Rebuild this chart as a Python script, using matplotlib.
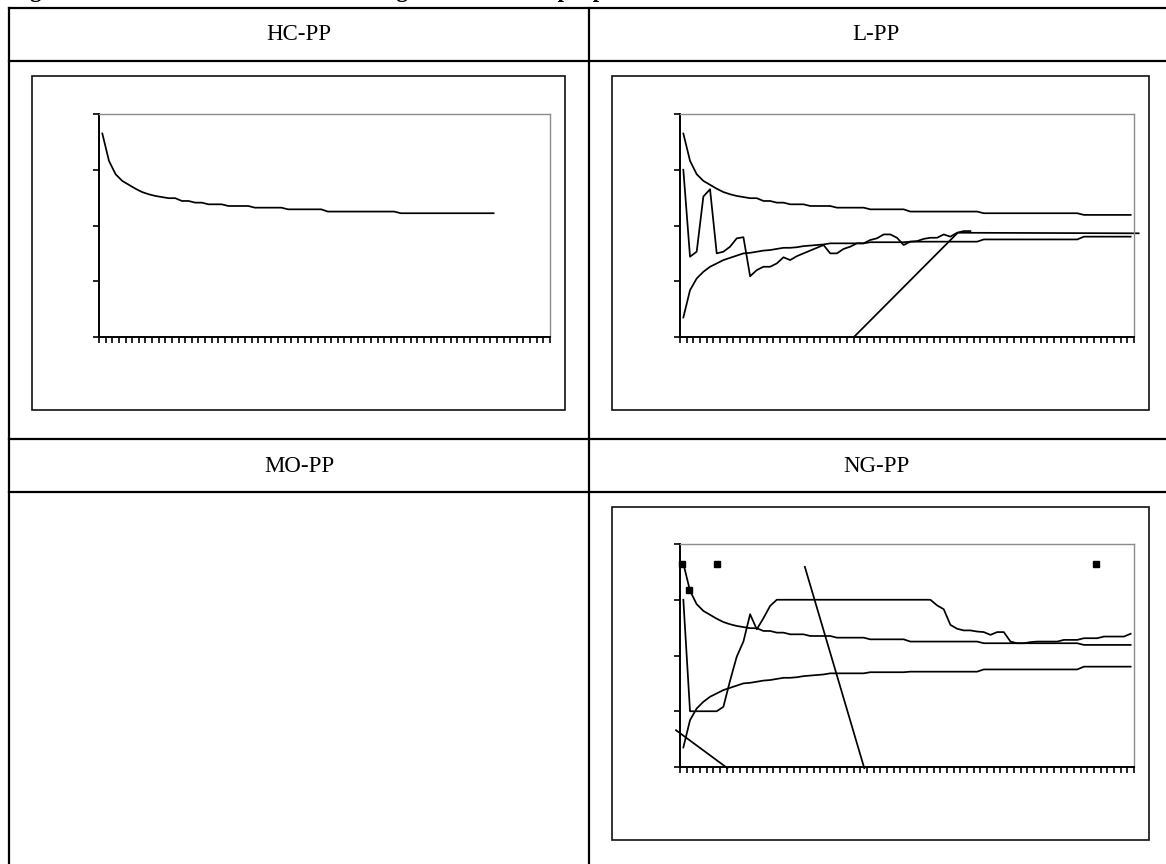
import numpy as np
import matplotlib
matplotlib.use("Agg")
import matplotlib.pyplot as plt
from matplotlib.lines import Line2D
from matplotlib.patches import Rectangle

W, H = 1166, 864

# ---- data (y axis 0..4, 68 categories) ----
N_CAT = 68

HC_PP = [3.65, 3.16, 2.92, 2.80, 2.73, 2.66, 2.60, 2.56, 2.53, 2.51,
         2.49, 2.49, 2.44, 2.44, 2.41, 2.41, 2.38, 2.38, 2.38, 2.35,
         2.35, 2.35, 2.35, 2.32, 2.32, 2.32, 2.32, 2.32, 2.29, 2.29,
         2.29, 2.29, 2.29, 2.29, 2.25, 2.25, 2.25, 2.25, 2.25, 2.25,
         2.25, 2.25, 2.25, 2.25, 2.25, 2.22, 2.22, 2.22, 2.22, 2.22,
         2.22, 2.22, 2.22, 2.22, 2.22, 2.22, 2.22, 2.22, 2.22, 2.22]

UPPER = HC_PP + [2.19, 2.19, 2.19, 2.19, 2.19, 2.19, 2.19, 2.19]

LOWER = [0.35, 0.84, 1.05, 1.17, 1.26, 1.32, 1.38, 1.42, 1.46, 1.50,
         1.51, 1.53, 1.55, 1.56, 1.58, 1.60, 1.60, 1.61, 1.63, 1.64,
         1.65, 1.66, 1.68, 1.68, 1.68, 1.68, 1.68, 1.68, 1.70, 1.70,
         1.70, 1.70, 1.70, 1.70, 1.71, 1.71, 1.71, 1.71, 1.71, 1.71,
         1.71, 1.71, 1.71, 1.71, 1.71, 1.75, 1.75, 1.75, 1.75, 1.75,
         1.75, 1.75, 1.75, 1.75, 1.75, 1.75, 1.75, 1.75, 1.75, 1.75,
         1.80, 1.80, 1.80, 1.80, 1.80, 1.80, 1.80, 1.80]

L_PP = [3.00, 1.44, 1.53, 2.52, 2.65, 1.50, 1.53, 1.62, 1.77, 1.79,
        1.09, 1.20, 1.26, 1.26, 1.32, 1.43, 1.38, 1.45, 1.50, 1.55,
        1.60, 1.65, 1.50, 1.50, 1.58, 1.62, 1.68, 1.68, 1.74, 1.77,
        1.84, 1.84, 1.78, 1.65, 1.71, 1.72, 1.76, 1.78, 1.78, 1.84,
        1.80, 1.87, 1.90, 1.90]
L_LINE_X = [26.05, 41.6, 68.7]
L_LINE_Y = [0.0, 1.87, 1.86]

NG_PP = [3.00, 1.00, 1.00, 1.00, 1.00, 1.00, 1.08, 1.55, 1.98, 2.25,
         2.74, 2.47, 2.67, 2.89, 3.00, 3.00, 3.00, 3.00, 3.00, 3.00,
         3.00, 3.00, 3.00, 3.00, 3.00, 3.00, 3.00, 3.00, 3.00, 3.00,
         3.00, 3.00, 3.00, 3.00, 3.00, 3.00, 3.00, 3.00, 2.90, 2.83,
         2.55, 2.48, 2.45, 2.45, 2.43, 2.42, 2.37, 2.42, 2.42, 2.25,
         2.22, 2.22, 2.24, 2.25, 2.25, 2.25, 2.25, 2.28, 2.28, 2.28,
         2.31, 2.31, 2.31, 2.34, 2.34, 2.34, 2.34, 2.39]
NG_LINE_A_X = [18.7, 27.6]
NG_LINE_A_Y = [3.59, -0.02]
NG_LINE_B_X = [-0.6, 7.1]
NG_LINE_B_Y = [0.66, -0.02]
NG_MARK_X = [0.3, 1.3, 5.6, 62.3]
NG_MARK_Y = [3.65, 3.17, 3.65, 3.65]

HEADERS = ["HC-PP", "L-PP", "MO-PP", "NG-PP"]
CAPTION = ("Figure 4: Estimates of the densities using the twelve sample "
           "parameter estimates for the models")


def fx(x):
    return x / W


def fy(y):
    return 1 - y / H


def px_axes(fig, x0, y0, x1, y1):
    ax = fig.add_axes([fx(x0), fy(y1), (x1 - x0) / W, (y1 - y0) / H])
    ax.set_zorder(2)
    return ax


def style_axes(ax):
    ax.set_xlim(0, N_CAT)
    ax.set_ylim(0, 4)
    ax.set_xticks(np.arange(N_CAT + 1))
    ax.set_yticks([0, 1, 2, 3, 4])
    ax.set_xticklabels([])
    ax.set_yticklabels([])
    ax.tick_params(axis="both", direction="out", length=4.5, width=1.2,
                   color="black")
    for side in ["left", "bottom"]:
        ax.spines[side].set_color("black")
        ax.spines[side].set_linewidth(1.4)
    for side in ["top", "right"]:
        ax.spines[side].set_color("#8c8c8c")
        ax.spines[side].set_linewidth(1.0)


def series(ax, vals):
    x = np.arange(len(vals)) + 0.5
    ax.plot(x, vals, color="black", lw=1.25, solid_joinstyle="round")


fig = plt.figure(figsize=(W / 100, H / 100), dpi=100)
fig.patch.set_facecolor("white")

# ---- table grid ----
LW_T = 1.6
for y in [8, 61, 439, 492]:
    fig.add_artist(Line2D([fx(9), fx(W + 5)], [fy(y), fy(y)],
                          color="black", lw=LW_T))
for x in [9, 589]:
    fig.add_artist(Line2D([fx(x), fx(x)], [fy(8), fy(H + 5)],
                          color="black", lw=LW_T))

# caption, only its descenders are visible at the top edge
fig.text(fx(10), fy(-3), CAPTION, ha="left", va="baseline",
         family="Liberation Serif", fontweight="bold", fontsize=16.5)

# header labels
for (cx, cy), lab in zip([(299, 35), (876, 35), (299, 466), (876, 466)],
                         HEADERS):
    fig.text(fx(cx), fy(cy), lab, ha="center", va="center",
             family="Liberation Serif", fontsize=16.5)

# chart area boxes
for (x0, y0, x1, y1) in [(32, 76, 565, 410), (612, 76, 1149, 410),
                         (612, 507, 1149, 840)]:
    fig.add_artist(Rectangle((fx(x0), fy(y1)), (x1 - x0) / W,
                             (y1 - y0) / H, transform=fig.transFigure,
                             facecolor="white", edgecolor="#111111",
                             lw=1.2, zorder=1))

# ---- HC-PP ----
ax1 = px_axes(fig, 99, 114, 550, 337)
style_axes(ax1)
series(ax1, HC_PP)

# ---- L-PP ----
ax2 = px_axes(fig, 680, 114, 1134, 337)
style_axes(ax2)
series(ax2, UPPER)
series(ax2, LOWER)
series(ax2, L_PP)
ax2.plot(L_LINE_X, L_LINE_Y, color="black", lw=1.25, clip_on=False)

# ---- NG-PP ----
ax3 = px_axes(fig, 680, 544, 1134, 767)
style_axes(ax3)
series(ax3, UPPER)
series(ax3, LOWER)
series(ax3, NG_PP)
ax3.plot(NG_LINE_A_X, NG_LINE_A_Y, color="black", lw=1.25, clip_on=False)
ax3.plot(NG_LINE_B_X, NG_LINE_B_Y, color="black", lw=1.25, clip_on=False)
ax3.plot(NG_MARK_X, NG_MARK_Y, ls="none", marker="s", markersize=5,
         color="black", clip_on=False)

fig.savefig("out.png", dpi=100, facecolor="white")
